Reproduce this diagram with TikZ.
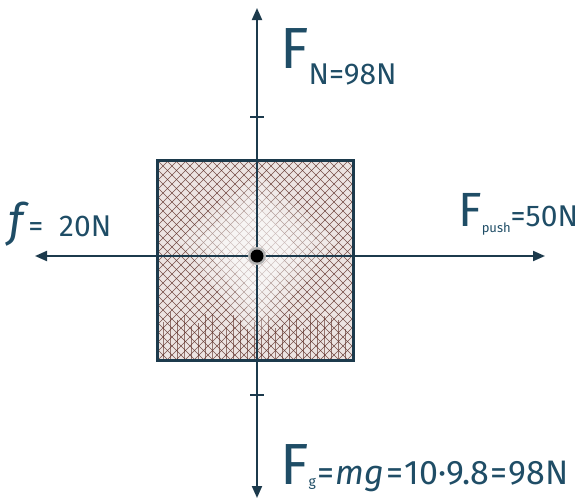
\documentclass[tikz,border=0pt]{standalone}
\usepackage{fontspec}
\setmainfont{Fira Sans}
\usetikzlibrary{arrows.meta}
\definecolor{ink}{HTML}{1C3A4C}
\definecolor{txt}{HTML}{1F4D66}
\definecolor{hatch}{HTML}{5A2A22}
\definecolor{boxfill}{HTML}{ECE4E2}
\tikzset{
  axis/.style={ink, line width=2pt, -{Triangle[length=12pt,width=10pt]}},
  tick/.style={ink, line width=1.2pt},
  hatchline/.style={hatch, line width=0.6pt, opacity=0.8},
  lbl/.style={txt, inner sep=0pt, anchor=base west},
}
\newcommand{\tsp}{\hspace{1.5pt}}
\begin{document}
\begin{tikzpicture}[x=1pt,y=-1pt]
\useasboundingbox (0,0) rectangle (582,504);
% block
\coordinate (c) at (257,256);
\fill[boxfill] (157,160) rectangle (353,360);
\begin{scope}
\clip (157,160) rectangle (353,360);
\foreach \k in {-220,-211,...,220} {
  \draw[hatchline] (257+\k-110,366) -- (257+\k+110,146);
  \draw[hatchline] (257+\k-110,146) -- (257+\k+110,366);
}
\foreach \k in {163,170,...,350} {
  \draw[hatchline, opacity=0.6] (\k,360) -- (\k,312+20*rnd);
}
\fill[white, opacity=0.25] (257,175) -- (335,240) -- (257,340) -- (179,240) -- cycle;
\fill[white, opacity=0.3] (257,190) -- (315,240) -- (257,320) -- (199,240) -- cycle;
\fill[white, opacity=0.35] (257,205) -- (295,245) -- (257,300) -- (219,245) -- cycle;
\end{scope}
\node[draw=ink, line width=3pt, minimum width=196pt, minimum height=200pt, inner sep=0pt] (box) at (255,260) {};
% axes
\coordinate (top) at (257,8);
\coordinate (bot) at (257,498);
\coordinate (lft) at (35,256);
\coordinate (rgt) at (545,256);
\draw[axis] (c) -- (top);
\draw[axis] (c) -- (bot);
\draw[axis] (c) -- (lft);
\draw[axis] (c) -- (rgt);
\draw[tick] (250,117) -- (264,117);
\draw[tick] (250,395) -- (264,395);
\fill[gray!60] (c) circle (9pt);
\fill[black] (c) circle (6.5pt);
% labels
\node[lbl] (fn) at (280,68) {\fontsize{58}{58}\selectfont F\raisebox{-16pt}{\fontsize{30}{30}\selectfont N=98N}};
\node[lbl] (ff) at (8,236) {\fontsize{46}{46}\selectfont\itshape f\upshape\fontsize{30}{30}\selectfont\,=\ \ 20N};
\node[lbl] (fp) at (458,226) {\fontsize{48}{48}\selectfont F\raisebox{-6pt}{\fontsize{13}{13}\selectfont push}\fontsize{30}{30}\selectfont=50N};
\node[lbl] (fg) at (280,484) {\fontsize{58}{58}\selectfont F\raisebox{-2pt}{\fontsize{14}{14}\selectfont g}\fontsize{34}{34}\selectfont\tsp=\tsp\itshape mg\upshape\tsp=\tsp10·9.8\tsp=\tsp98N};
\end{tikzpicture}
\end{document}
